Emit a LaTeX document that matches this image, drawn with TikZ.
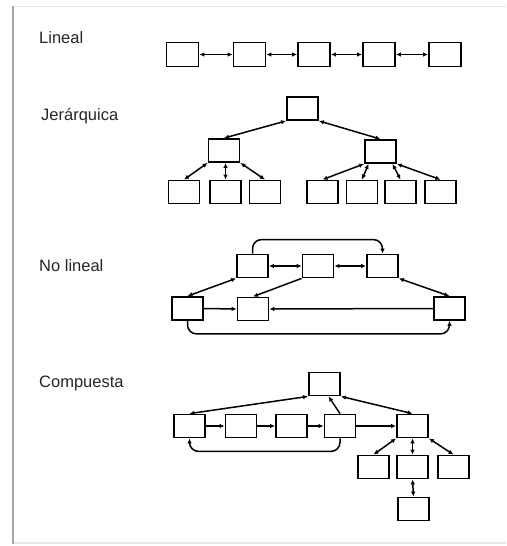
\documentclass[tikz,border=0pt]{standalone}
\usepackage{fontspec}
\setmainfont{Liberation Sans}
\usetikzlibrary{arrows.meta,calc}
\tikzset{
  bx/.style={draw=black, line width=1.8pt, minimum width=31pt, minimum height=23pt, inner sep=0pt, fill=white},
  lbx/.style={bx, minimum width=32pt, minimum height=24pt},
  lbl/.style={anchor=base west, inner sep=0pt, text=black!85, font=\fontsize{16.5}{19}\selectfont},
  con/.style={line width=1.5pt, black},
  bi/.style={con, {Latex[length=5pt,width=4.5pt]}-{Latex[length=5pt,width=4.5pt]}},
  uni/.style={con, -{Latex[length=5pt,width=4.5pt]}},
  frameL/.style={line width=2.5pt, draw=black!35},
  frameT/.style={line width=1.5pt, draw=black!10}
}
\begin{document}
\begin{tikzpicture}[x=1pt,y=-1pt]
\useasboundingbox (0,0) rectangle (506,546);
% frame
\draw[frameT] (13,6.5) -- (506,6.5);
\draw[frameT] (13,543) -- (506,543);
\draw[frameL] (13,6) -- (13,544);

% labels
\node[lbl] (tl) at (39,43.5) {Lineal};
\node[lbl] (tj) at (41,120) {Jerárquica};
\node[lbl] (tn) at (39,271) {No lineal};
\node[lbl] (tc) at (39,387) {Compuesta};

% Lineal
\node[lbx] (l1) at (182.5,54.5) {};
\node[lbx] (l2) at (249.5,54.5) {};
\node[lbx] (l3) at (314,54.5) {};
\node[lbx] (l4) at (379,54.5) {};
\node[lbx] (l5) at (445,54.5) {};
\draw[bi] (l1.east) -- (l2.west);
\draw[bi] (l2.east) -- (l3.west);
\draw[bi] (l3.east) -- (l4.west);
\draw[bi] (l4.east) -- (l5.west);

% Jerarquica
\node[bx] (h0) at (302.5,108.5) {};
\node[bx] (h1) at (224,150.5) {};
\node[bx] (h2) at (380.5,151.5) {};
\node[bx] (h11) at (184,192) {};
\node[bx] (h12) at (225.5,192) {};
\node[bx] (h13) at (265,192) {};
\node[bx] (h21) at (322.5,192) {};
\node[bx] (h22) at (362,192) {};
\node[bx] (h23) at (400.5,192) {};
\node[bx] (h24) at (440.5,192) {};
\draw[bi] (h0.south west) -- (h1.north);
\draw[bi] (h0.south east) -- (h2.north);
\draw[bi] (h1.south west) -- (h11.north);
\draw[bi] ($(h1.south)+(1.5,0)$) -- (h12.north);
\draw[bi] (h1.south east) -- (h13.north);
\draw[bi] (h2.south west) -- (h21.north);
\draw[bi] ($(h2.south)+(-12,0)$) -- (h22.north);
\draw[bi] ($(h2.south)+(12,0)$) -- (h23.north);
\draw[bi] (h2.south east) -- (h24.north);

% No lineal
\node[bx] (A) at (252.5,266) {};
\node[bx] (B) at (318,266) {};
\node[bx] (C) at (382.5,266) {};
\node[bx] (D) at (187.5,308.5) {};
\node[bx] (E) at (253,309) {};
\node[bx] (F) at (449.5,308.5) {};
\draw[bi] (A.east) -- (B.west);
\draw[bi] (B.east) -- (C.west);
\draw[uni, rounded corners=9pt] (A.north) -- ++(0,-14) -| (C.north);
\draw[bi] (A.south west) -- (D.north);
\draw[uni] (B.south west) -- (E.north);
\draw[bi] (C.south east) -- (F.north);
\draw[uni] (D.east) -- (E.west);
\draw[uni] (F.west) -- (E.east);
\draw[uni, rounded corners=9pt] (D.south) -- ++(0,13) -| (F.south);

% Compuesta
\node[bx] (T) at (324.5,384) {};
\node[bx] (P1) at (189.5,426) {};
\node[bx] (P2) at (241,426) {};
\node[bx] (P3) at (291.5,426) {};
\node[bx] (P4) at (340,426) {};
\node[bx] (Q) at (412.5,426) {};
\node[bx] (R1) at (373.5,467) {};
\node[bx] (R2) at (412.5,467) {};
\node[bx] (R3) at (453.5,467) {};
\node[bx] (S) at (413.5,509) {};
\draw[bi] (T.south west) -- (P1.north);
\draw[uni] (P4.north) -- ($(T.south)+(4,0)$);
\draw[bi] (T.south east) -- (Q.north);
\draw[uni] (P1.east) -- (P2.west);
\draw[uni] (P2.east) -- (P3.west);
\draw[uni] (P3.east) -- (P4.west);
\draw[uni] (P4.east) -- (Q.west);
\draw[uni, rounded corners=9pt] (P4.south) -- ++(0,13) -| (P1.south);
\draw[bi] (Q.south west) -- (R1.north);
\draw[bi] (Q.south) -- (R2.north);
\draw[bi] (Q.south east) -- (R3.north);
\draw[bi] (R2.south) -- (S.north);
\end{tikzpicture}
\end{document}
